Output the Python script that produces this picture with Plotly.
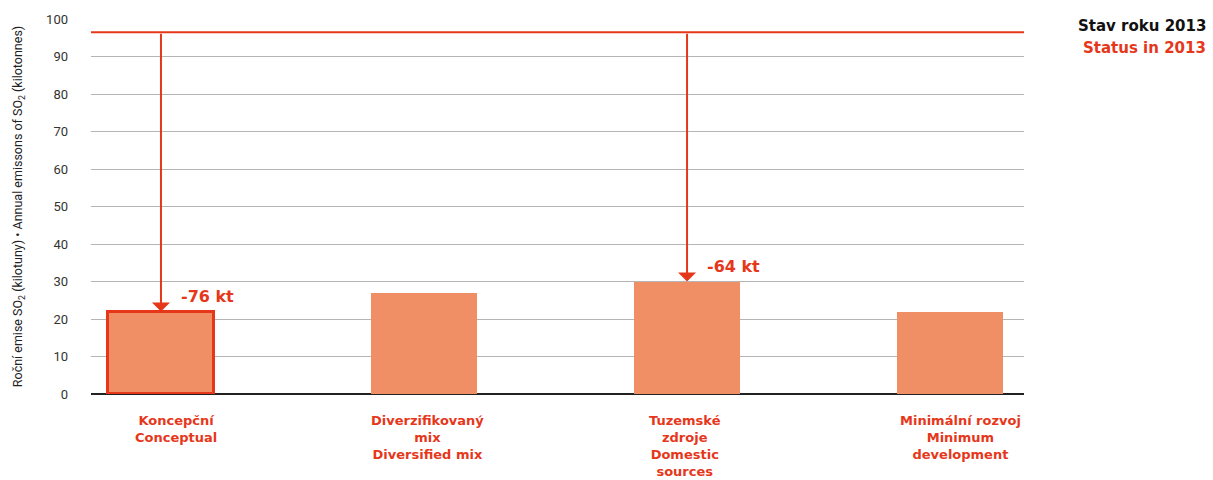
import plotly.graph_objects as go

# Scenario data: annual SO2 emissions (kilotonnes)
categories = ["Koncepční<br>Conceptual",
              "Diverzifikovaný<br>mix<br>Diversified mix",
              "Tuzemské<br>zdroje<br>Domestic<br>sources",
              "Minimální rozvoj<br>Minimum<br>development"]
emissions = [22, 27, 30, 22]
status_2013 = 96.5
highlight = [True, False, False, False]
arrow_bars = [0, 2]
arrow_labels = ["-76 kt", "-64 kt"]

RED = "#E6371B"
BAR = "#F08F66"
xs = list(range(len(categories)))
label_nudge = [15, 3, -2, 10]  # horizontal pixel nudge of the category captions

fig = go.Figure()
fig.add_trace(go.Bar(
    x=xs, y=emissions, width=0.403,
    marker=dict(color=BAR,
                line=dict(color=[RED if h else BAR for h in highlight],
                          width=[3 if h else 0 for h in highlight])),
    hoverinfo="skip", showlegend=False))

# 2013 reference level
fig.add_shape(type="line", xref="paper", x0=0, x1=1, yref="y",
              y0=status_2013, y1=status_2013, line=dict(color=RED, width=2))

# Arrows from the 2013 level down to the scenario bars
for i, lbl in zip(arrow_bars, arrow_labels):
    fig.add_annotation(x=xs[i], y=emissions[i], ax=xs[i], ay=status_2013,
                       xref="x", yref="y", axref="x", ayref="y",
                       showarrow=True, arrowhead=1, arrowsize=1.5, arrowwidth=2,
                       arrowcolor=RED, standoff=0, text="")
    fig.add_annotation(x=xs[i], y=emissions[i], xref="x", yref="y", text=lbl,
                       showarrow=False, xanchor="left", yanchor="bottom",
                       xshift=18, yshift=4,
                       font=dict(family="DejaVu Sans", size=16, color=RED, weight="bold"))

# Category captions under the bars
for x, cat, dx in zip(xs, categories, label_nudge):
    fig.add_annotation(x=x, y=0, xref="x", yref="paper", text=cat, showarrow=False,
                       xanchor="center", yanchor="top", align="center",
                       xshift=dx, yshift=-17,
                       font=dict(family="DejaVu Sans", size=13, color=RED, weight="bold"))

# Legend-like labels at the top right
fig.add_annotation(xref="paper", yref="paper", x=1.0, y=1.0, xanchor="right",
                   yanchor="middle", text="<b>Stav roku 2013</b>", showarrow=False,
                   xshift=184, yshift=-7,
                   font=dict(family="DejaVu Sans", size=15, color="#111"))
fig.add_annotation(xref="paper", yref="paper", x=1.0, y=1.0, xanchor="right",
                   yanchor="middle", text="<b>Status in 2013</b>", showarrow=False,
                   xshift=184, yshift=-29,
                   font=dict(family="DejaVu Sans", size=15, color=RED))

fig.update_layout(
    width=1213, height=480,
    margin=dict(l=91, r=189, t=19, b=86),
    plot_bgcolor="white", paper_bgcolor="white",
    bargap=0,
    xaxis=dict(range=[-0.266, 3.281], tickmode="array", tickvals=xs,
               showticklabels=False, showgrid=False, zeroline=False,
               showline=False, ticks="", automargin=False),
    yaxis=dict(range=[0, 100], dtick=10, showgrid=True, gridcolor="#b5b5b5",
               gridwidth=1.3, zeroline=True, zerolinecolor="#222", zerolinewidth=1.5,
               ticks="", ticklabelstandoff=22, automargin=False,
               tickfont=dict(family="Roboto", size=13, color="#333"),
               title=dict(text="Roční emise SO<sub>2</sub> (kilotuny) • Annual emissons of SO<sub>2</sub> (kilotonnes)",
                          font=dict(family="Roboto", size=12.5, color="#222"), standoff=20)),
)

fig.write_html("out.html")
